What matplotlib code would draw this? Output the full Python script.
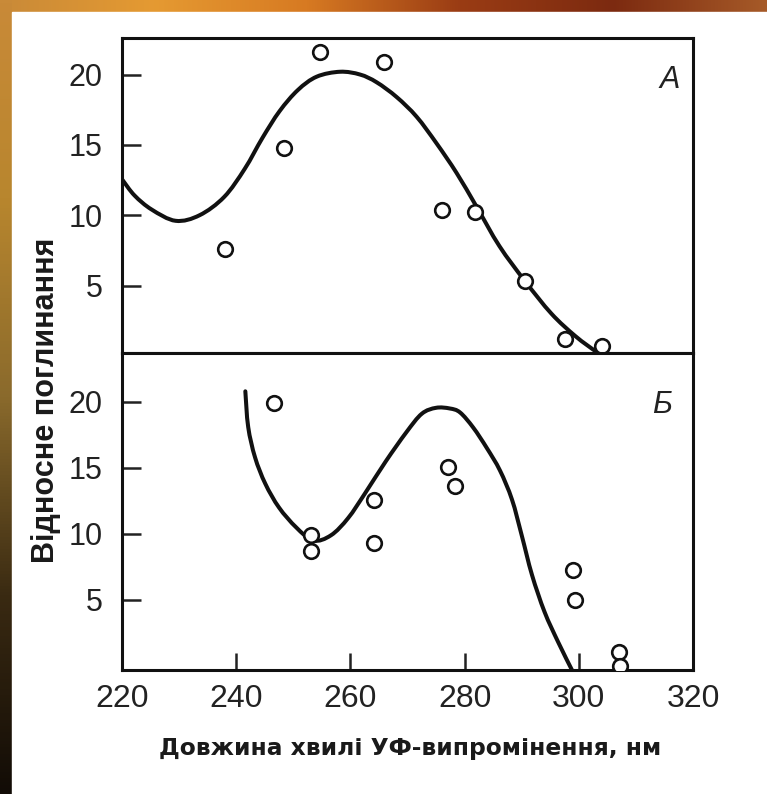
import numpy as np
import matplotlib
matplotlib.use("Agg")
import matplotlib.pyplot as plt
from matplotlib.colors import LinearSegmentedColormap
from matplotlib.path import Path
from matplotlib.patches import PathPatch

# ---- data ----
xticks = [220, 240, 260, 280, 300, 320]
xticklabels = ["220", "240", "260", "280", "300", "320"]
yticks = [5, 10, 15, 20]

# Panel A
a_pts_x = [238.0, 248.4, 254.7, 265.8, 276.0, 281.9, 290.6, 297.6, 304.1]
a_pts_y = [7.6, 14.8, 21.6, 20.9, 10.4, 10.2, 5.3, 1.2, 0.7]
a_curve_x = [220.1, 222.2, 225.2, 229.4, 233.6, 237.9, 241.5, 244.6, 247.6, 250.8,
             254.1, 258.2, 261.7, 264.6, 268.1, 271.6, 275.1, 278.6, 282.1, 286.1,
             290.6, 295.2, 299.4, 303.0]
a_curve_y = [12.5, 11.4, 10.4, 9.6, 10.0, 11.3, 13.3, 15.5, 17.4, 18.9,
             19.85, 20.2, 20.0, 19.45, 18.4, 17.0, 15.1, 13.0, 10.6, 7.8,
             5.3, 3.0, 1.4, 0.3]

# Panel Б
b_pts_x = [246.7, 253.1, 253.1, 264.2, 264.2, 277.1, 278.4, 298.9, 299.3, 307.0, 307.2]
b_pts_y = [19.9, 9.9, 8.7, 12.6, 9.3, 15.1, 13.6, 7.3, 5.0, 1.1, 0.0]
b_curve_x = [241.6, 242.1, 243.3, 245.1, 247.5, 250.5, 253.5, 256.6, 259.6, 262.6,
             266.2, 269.8, 272.5, 275.0, 277.4, 279.2, 281.5, 283.9, 286.2, 288.3,
             290.0, 291.8, 294.0, 296.4, 298.8]
b_curve_y = [20.8, 18.1, 15.8, 13.8, 12.0, 10.5, 9.5, 9.9, 11.2, 13.1,
             15.5, 17.7, 19.1, 19.55, 19.5, 19.2, 18.06, 16.5, 14.8, 12.6,
             9.9, 6.9, 4.1, 1.8, -0.3]

ylabel = "Відносне поглинання"
xlabel = "Довжина хвилі УФ-випромінення, нм"
label_a = "A"
label_b = "Б"

# ---- figure ----
W, H = 767, 794
fig = plt.figure(figsize=(W / 100, H / 100), dpi=100)

# slide background (gradient strips at top and left)
bg = fig.add_axes([0, 0, 1, 1], zorder=-10)
bg.set_axis_off()
top_cmap = LinearSegmentedColormap.from_list(
    "top", ["#c98a38", "#e59a32", "#d77a22", "#9a3c14", "#7c2a10", "#a65a28"])
left_cmap = LinearSegmentedColormap.from_list(
    "left", ["#c98a38", "#b8862e", "#8a6a2c", "#3a2a12", "#120c06"])
bg.set_xlim(0, W)
bg.set_ylim(H, 0)
bg.imshow(np.linspace(0, 1, 256)[None, :], cmap=top_cmap, aspect="auto",
          extent=[0, W, 12, 0])
bg.imshow(np.linspace(0, 1, 256)[:, None], cmap=left_cmap, aspect="auto",
          extent=[0, 12, H, 0])
bg.add_patch(plt.Rectangle((12, 12), W - 12, H - 12, color="white"))

left = 122 / W
right = 693 / W
y_top = 1 - 38 / H
y_mid = 1 - 353 / H
y_bot = 1 - 670 / H

axA = fig.add_axes([left, y_mid, right - left, y_top - y_mid])
axB = fig.add_axes([left, y_bot, right - left, y_mid - y_bot])

tick_font = ["Liberation Sans", "DejaVu Sans"]

for ax in (axA, axB):
    for s in ax.spines.values():
        s.set_linewidth(2.2)
        s.set_color("#111111")
    ax.set_xlim(220, 320)
    ax.set_yticks(yticks)
    ax.set_yticklabels([str(v) for v in yticks], fontfamily=tick_font, fontsize=22,
                       color="#222222")
    ax.tick_params(axis="y", direction="in", length=14, width=1.8, pad=14,
                   colors="#222222", right=False)

axA.set_ylim(0.2, 22.6)
axB.set_ylim(-0.3, 23.7)

axA.set_xticks([])
axB.set_xticks(xticks)
axB.set_xticklabels(xticklabels, fontfamily=tick_font, fontsize=23, color="#222222")
axB.tick_params(axis="x", direction="in", length=12, width=1.8, pad=10, colors="#222222")


def smooth_path(xs, ys):
    """Smooth Bezier path through the given read points (Catmull-Rom handles)."""
    p = np.column_stack([xs, ys]).astype(float)
    verts = [p[0]]
    codes = [Path.MOVETO]
    n = len(p)
    for i in range(n - 1):
        p0 = p[i - 1] if i > 0 else p[i]
        p1 = p[i]
        p2 = p[i + 1]
        p3 = p[i + 2] if i + 2 < n else p[i + 1]
        c1 = p1 + (p2 - p0) / 6.0
        c2 = p2 - (p3 - p1) / 6.0
        verts += [c1, c2, p2]
        codes += [Path.CURVE4] * 3
    return Path(verts, codes)


for ax, cx, cy in ((axA, a_curve_x, a_curve_y), (axB, b_curve_x, b_curve_y)):
    ax.add_patch(PathPatch(smooth_path(cx, cy), fill=False, edgecolor="#111111",
                           lw=2.9, capstyle="round", joinstyle="round",
                           transform=ax.transData))

axA.plot(a_pts_x, a_pts_y, linestyle="none", marker="o", markersize=10.5,
         markerfacecolor="white", markeredgecolor="#111111", markeredgewidth=1.9,
         clip_on=False, zorder=3)
axB.plot(b_pts_x, b_pts_y, linestyle="none", marker="o", markersize=10.5,
         markerfacecolor="white", markeredgecolor="#111111", markeredgewidth=1.9,
         clip_on=True, zorder=3)

axA.text(316, 19.6, label_a, fontsize=22, fontstyle="italic", ha="center", va="center",
         fontfamily=tick_font, color="#222222")
axB.text(314.5, 19.8, label_b, fontsize=22, fontstyle="italic", ha="center", va="center",
         fontfamily=tick_font, color="#222222")

fig.text(46 / W, 1 - 400 / H, ylabel, rotation=90, ha="center", va="center",
         fontsize=22, fontweight="bold", fontfamily=["Liberation Sans", "DejaVu Sans"],
         color="#1a1a1a")
fig.text(410 / W, 1 - 748 / H, xlabel, ha="center", va="center",
         fontsize=16.8, fontweight="bold", fontfamily=["DejaVu Sans"], color="#1a1a1a")

fig.savefig("out.png", dpi=100)
